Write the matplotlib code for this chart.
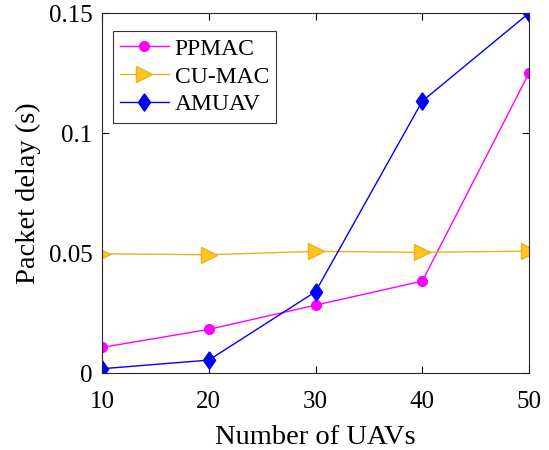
import matplotlib
matplotlib.use("Agg")
import matplotlib.pyplot as plt

x = [10, 20, 30, 40, 50]
ppmac = [0.0107, 0.0182, 0.0283, 0.0383, 0.125]
cumac = [0.0497, 0.0493, 0.0507, 0.0503, 0.0508]
amuav = [0.0018, 0.0054, 0.0339, 0.1133, 0.150]
xticks = [10, 20, 30, 40, 50]
yticks = [0, 0.05, 0.1, 0.15]
yticklabels = ["0", "0.05", "0.1", "0.15"]

plt.rcParams['font.family'] = ['Liberation Serif', 'DejaVu Serif']
fig = plt.figure(figsize=(5.49, 4.5), dpi=100)
ax = fig.add_axes([0.186, 0.171, 0.7776, 0.8])

diamond = [(0, 1), (0.7, 0), (0, -1), (-0.7, 0), (0, 1)]

ax.plot(x, ppmac, color='#FF00FF', marker='o', markersize=7, linewidth=1, label='PPMAC')
ax.plot(x, cumac, color='#EDB120', marker='>', markersize=11, markerfacecolor='#FFC61E',
        markeredgecolor='#EDB120', linewidth=1, label='CU-MAC')
ax.plot(x, amuav, color='#0000FF', marker=diamond, markersize=12.5, linewidth=1, label='AMUAV')

ax.set_xlim(10, 50)
ax.set_ylim(0, 0.15)
ax.set_xticks(xticks)
ax.set_yticks(yticks)
ax.set_yticklabels(yticklabels)
ax.tick_params(direction='in', top=True, right=True, labelsize=18, length=5, width=0.8)
ax.tick_params(axis='x', pad=13)
ax.tick_params(axis='y', pad=7)
for s in ax.spines.values():
    s.set_linewidth(0.8)
    s.set_color('#262626')
ax.set_xlabel('Number of UAVs', fontsize=20.5)
ax.set_ylabel('Packet delay (s)', fontsize=20.5)
ax.xaxis.set_label_coords(0.5, -0.143)
ax.yaxis.set_label_coords(-0.142, 0.5)

leg = ax.legend(loc='upper left', bbox_to_anchor=(0.026, 0.95), fontsize=17, frameon=True,
                fancybox=False, edgecolor='black', handlelength=2.05, borderpad=0.3,
                labelspacing=0.27, handletextpad=0.25, borderaxespad=0)
leg.get_frame().set_linewidth(0.8)

fig.savefig('out.png', dpi=100)
